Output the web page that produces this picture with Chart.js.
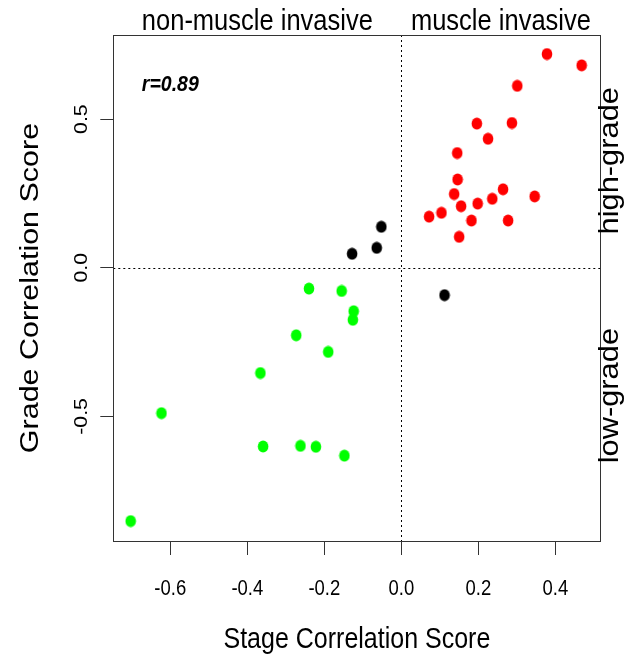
<!DOCTYPE html>
<html>
<head>
<meta charset="utf-8">
<script src="https://cdn.jsdelivr.net/npm/chart.js@4.4.1/dist/chart.umd.min.js"></script>
<style>
  html, body { margin: 0; padding: 0; background: #fff; }
  #myChart { display: block; }
</style>
</head>
<body>
<canvas id="myChart" width="626" height="662"></canvas>
<script>
// stage vs grade correlation scores
const redStage = [0.378, 0.468, 0.301, 0.196, 0.287, 0.225, 0.145, 0.146, 0.137, 0.264, 0.346, 0.155, 0.198, 0.236, 0.072, 0.104, 0.182, 0.277, 0.150];
const redGrade = [0.719, 0.681, 0.612, 0.485, 0.487, 0.434, 0.386, 0.297, 0.248, 0.264, 0.240, 0.207, 0.216, 0.232, 0.172, 0.185, 0.159, 0.159, 0.104];

const blackStage = [-0.052, -0.064, -0.128, 0.112];
const blackGrade = [0.138, 0.067, 0.047, -0.092];

const greenStage = [-0.240, -0.155, -0.124, -0.126, -0.273, -0.190, -0.366, -0.623, -0.359, -0.262, -0.222, -0.148, -0.703];
const greenGrade = [-0.070, -0.078, -0.146, -0.175, -0.227, -0.283, -0.354, -0.489, -0.601, -0.599, -0.602, -0.632, -0.852];

const xTicks = [-0.6, -0.4, -0.2, 0.0, 0.2, 0.4];
const yTicks = [-0.5, 0.0, 0.5];

const xTitle = "Stage Correlation Score";
const yTitle = "Grade Correlation Score";
const stageLabels = ["non-muscle invasive", "muscle invasive"];
const gradeLabels = ["high-grade", "low-grade"];
const rLabel = "r=0.89";

const FONT = '"Liberation Sans", Arial, sans-serif';
const K = 1.15; // the original is a bit stretched vertically

const toPoints = (xs, ys) => xs.map((x, i) => ({ x: x, y: ys[i] }));

// slightly tall dots like the R output
const makeDot = (color) => {
  const c = document.createElement("canvas");
  c.width = 12;
  c.height = 13;
  const g = c.getContext("2d");
  g.fillStyle = color;
  g.beginPath();
  g.ellipse(6, 6.5, 5.3, 5.9, 0, 0, Math.PI * 2);
  g.fill();
  return c;
};

const txt = (ctx, s, x, y, font, rot, align) => {
  ctx.save();
  ctx.translate(x, y);
  ctx.scale(1, K);
  ctx.rotate(rot || 0);
  ctx.font = font;
  ctx.fillStyle = "#000";
  ctx.textAlign = align || "center";
  ctx.textBaseline = "middle";
  ctx.fillText(s, 0, 0);
  ctx.restore();
};

const decorations = {
  id: "decorations",
  beforeDatasetsDraw(chart) {
    const { ctx, chartArea: a, scales } = chart;
    const x0 = scales.x.getPixelForValue(0);
    const y0 = scales.y.getPixelForValue(0);
    ctx.save();
    ctx.strokeStyle = "#000";
    ctx.lineWidth = 1;
    ctx.setLineDash([2, 3]);
    ctx.beginPath();
    ctx.moveTo(Math.round(x0) + 0.5, a.top);
    ctx.lineTo(Math.round(x0) + 0.5, a.bottom);
    ctx.moveTo(a.left, Math.round(y0) + 0.5);
    ctx.lineTo(a.right, Math.round(y0) + 0.5);
    ctx.stroke();
    ctx.setLineDash([]);
    ctx.strokeStyle = "#333";
    ctx.strokeRect(Math.round(a.left) + 0.5, Math.round(a.top) + 0.5,
      Math.round(a.right - a.left), Math.round(a.bottom - a.top));
    ctx.restore();
  },
  afterDraw(chart) {
    const { ctx, chartArea: a, scales } = chart;
    const x0 = scales.x.getPixelForValue(0);
    const tickFont = "18.5px " + FONT;
    scales.x.ticks.forEach((t) => {
      txt(ctx, t.value.toFixed(1), scales.x.getPixelForValue(t.value), 589, tickFont);
    });
    scales.y.ticks.forEach((t) => {
      txt(ctx, t.value.toFixed(1), 81.5, scales.y.getPixelForValue(t.value), tickFont, -Math.PI / 2);
    });
    txt(ctx, xTitle, (a.left + a.right) / 2, 640, "25px " + FONT);
    txt(ctx, yTitle, 31, (a.top + a.bottom) / 2, "26.5px " + FONT, -Math.PI / 2);
    txt(ctx, stageLabels[0], (a.left + x0) / 2, 21.5, "25.5px " + FONT);
    txt(ctx, stageLabels[1], (x0 + a.right) / 2, 21.5, "25.5px " + FONT);
    txt(ctx, gradeLabels[0], 611, scales.y.getPixelForValue(0.36), "26.8px " + FONT, -Math.PI / 2);
    txt(ctx, gradeLabels[1], 611, scales.y.getPixelForValue(-0.43), "26.8px " + FONT, -Math.PI / 2);
    txt(ctx, rLabel, scales.x.getPixelForValue(-0.6), scales.y.getPixelForValue(0.615),
      "italic bold 19.5px " + FONT);
  },
};

const chart = new Chart(document.getElementById("myChart"), {
  type: "scatter",
  data: {
    datasets: [
      { data: toPoints(redStage, redGrade), pointStyle: makeDot("#ff0000") },
      { data: toPoints(blackStage, blackGrade), pointStyle: makeDot("#000000") },
      { data: toPoints(greenStage, greenGrade), pointStyle: makeDot("#00ff00") },
    ],
  },
  options: {
    responsive: false,
    animation: false,
    layout: { padding: { top: 35, right: 25.5, left: 0, bottom: 0 } },
    elements: { point: { radius: 6, hoverRadius: 6 } },
    scales: {
      x: {
        type: "linear",
        min: -0.748,
        max: 0.517,
        afterBuildTicks: (s) => { s.ticks = xTicks.map((v) => ({ value: v })); },
        afterFit: (s) => { s.height = 121; },
        ticks: { display: false },
        border: { display: false },
        grid: { drawOnChartArea: false, drawTicks: true, tickLength: 14, color: "#333", lineWidth: 1 },
      },
      y: {
        type: "linear",
        min: -0.919,
        max: 0.783,
        afterBuildTicks: (s) => { s.ticks = yTicks.map((v) => ({ value: v })); },
        afterFit: (s) => { s.width = 113.3; },
        ticks: { display: false },
        border: { display: false },
        grid: { drawOnChartArea: false, drawTicks: true, tickLength: 13, color: "#333", lineWidth: 1 },
      },
    },
    plugins: {
      legend: { display: false },
      tooltip: { enabled: false },
    },
  },
  plugins: [decorations],
});
</script>
</body>
</html>
